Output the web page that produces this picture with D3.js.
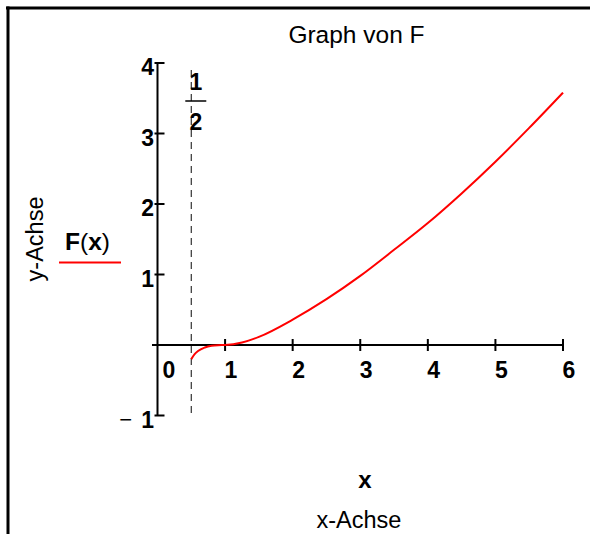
<!DOCTYPE html>
<html><head><meta charset="utf-8">
<script src="https://cdn.jsdelivr.net/npm/d3@7"></script>
<style>body{margin:0;background:#fff}svg{display:block}text{font-family:"Liberation Sans",Arial,sans-serif}</style>
</head><body><svg id="c" width="590" height="534"></svg>
<script>
const xs = [0.5,0.55,0.6,0.7,0.8,0.9,1.0,1.25,1.5,2,2.5,3,3.5,4,4.5,5,5.5,6];
const fx = [-0.20,-0.13,-0.085,-0.035,-0.01,-0.002,0,0.035,0.115,0.36,0.65,0.98,1.35,1.73,2.15,2.6,3.08,3.58];
const xTicks = [1,2,3,4,5,6];
const xTickLabels = ["1","2","3","4","5","6"];
const yTicks = [4,3,2,1,-1];
const yTickLabels = ["4","3","2","1","1"];
const title = "Graph von F";
const xLabel = "x-Achse", yLabel = "y-Achse";
const markerX = 0.5;

const svg = d3.select("#c");
const x = d3.scaleLinear().domain([0,6]).range([157.5,563]);
const y = d3.scaleLinear().domain([-1,4]).range([415.5,63]);

// frame
svg.append("line").attr("x1",6).attr("x2",590).attr("y1",8).attr("y2",8).attr("stroke","#000").attr("stroke-width",3);
svg.append("line").attr("x1",8).attr("x2",8).attr("y1",6.5).attr("y2",534).attr("stroke","#000").attr("stroke-width",3);

// title
svg.append("text").attr("x",356.5).attr("y",43).attr("text-anchor","middle").attr("font-size",24.5).text(title);

// dashed marker line
svg.append("line").attr("x1",x(markerX)).attr("x2",x(markerX)).attr("y1",70).attr("y2",y(-1))
  .attr("stroke","#333").attr("stroke-width",1.2).attr("stroke-dasharray","7,5");
// fraction label
const fx0 = x(markerX)+4.5;
svg.append("text").attr("x",fx0).attr("y",90).attr("text-anchor","middle").attr("font-size",23).attr("font-weight","bold").text("1");
svg.append("line").attr("x1",fx0-10.5).attr("x2",fx0+10.5).attr("y1",101).attr("y2",101).attr("stroke","#000").attr("stroke-width",1.5);
svg.append("text").attr("x",fx0).attr("y",130).attr("text-anchor","middle").attr("font-size",23).attr("font-weight","bold").text("2");

// axes
svg.append("line").attr("x1",152).attr("x2",x(6)).attr("y1",y(0)).attr("y2",y(0)).attr("stroke","#000").attr("stroke-width",2);
svg.append("line").attr("x1",x(0)).attr("x2",x(0)).attr("y1",y(4)).attr("y2",y(-1)).attr("stroke","#000").attr("stroke-width",2);

const xt = svg.append("g");
xTicks.forEach((t,i)=>{
  xt.append("line").attr("x1",x(t)).attr("x2",x(t)).attr("y1",y(0)-6).attr("y2",y(0)+6).attr("stroke","#000").attr("stroke-width",2);
  xt.append("text").attr("x",x(t)-0.5).attr("y",378).attr("font-size",23).attr("font-weight","bold").text(xTickLabels[i]);
});
svg.append("text").attr("x",162.5).attr("y",378).attr("font-size",23).attr("font-weight","bold").text("0");

const yt = svg.append("g");
yTicks.forEach((t,i)=>{
  yt.append("line").attr("x1",x(0)-3).attr("x2",x(0)+7).attr("y1",y(t)).attr("y2",y(t)).attr("stroke","#000").attr("stroke-width",2);
  yt.append("text").attr("x",154).attr("y",y(t)+12).attr("text-anchor","end").attr("font-size",23).attr("font-weight","bold").text(yTickLabels[i]);
  if (t < 0) yt.append("text").attr("x",132).attr("y",y(t)+11).attr("text-anchor","end").attr("font-size",22).text("\u2212");
});

// curve
const pts = xs.map((v,i)=>[v,fx[i]]);
svg.append("path").datum(pts).attr("fill","none").attr("stroke","#ff0000").attr("stroke-width",2)
  .attr("d", d3.line().x(d=>x(d[0])).y(d=>y(d[1])).curve(d3.curveMonotoneX));

// axis labels
svg.append("text").attr("x",365).attr("y",487.5).attr("text-anchor","middle").attr("font-size",24).attr("font-weight","bold").text("x");
svg.append("text").attr("x",359).attr("y",527.5).attr("text-anchor","middle").attr("font-size",23.5).text(xLabel);
svg.append("text").attr("transform","translate(43,239) rotate(-90)").attr("text-anchor","middle").attr("font-size",23.5).text(yLabel);

// legend
const lg = svg.append("text").attr("x",65).attr("y",250).attr("font-size",24.5);
lg.append("tspan").attr("font-weight","bold").text("F");
lg.append("tspan").text("(");
lg.append("tspan").attr("font-weight","bold").text("x");
lg.append("tspan").text(")");
svg.append("line").attr("x1",59).attr("x2",121).attr("y1",262.5).attr("y2",262.5).attr("stroke","#ff0000").attr("stroke-width",2);
</script></body></html>
